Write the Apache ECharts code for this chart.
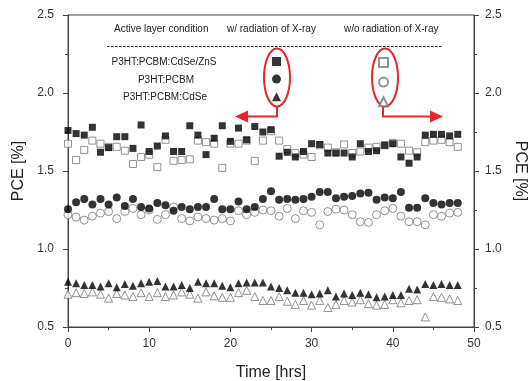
<!DOCTYPE html>
<html>
<head>
<meta charset="utf-8">
<script src="https://cdn.jsdelivr.net/npm/echarts@6/dist/echarts.min.js"></script>
<style>
  html, body { margin: 0; padding: 0; background: #fff; }
  #chart { width: 532px; height: 381px; }
</style>
</head>
<body>
<div id="chart"></div>
<script>
// PCE vs time, one point per hour (0..48)
var sqFilled = [1.76,1.74,1.73,1.78,1.62,1.65,1.72,1.72,1.645,1.795,
  1.625,1.66,1.725,1.625,1.625,1.79,1.73,1.605,1.71,1.79,
  1.69,1.775,1.70,1.785,1.75,1.765,1.595,1.62,1.59,1.625,
  1.675,1.67,1.615,1.615,1.615,1.59,1.675,1.625,1.63,1.665,
  1.675,1.59,1.55,1.59,1.73,1.735,1.735,1.725,1.735];
var sqOpen = [1.675,1.57,1.635,1.695,1.675,1.655,1.655,1.63,1.545,1.59,
  1.605,1.525,1.70,1.565,1.57,1.575,1.695,1.685,1.675,1.52,
  1.675,1.675,1.695,1.565,1.695,1.755,1.695,1.64,1.615,1.605,
  1.59,1.665,1.65,1.62,1.67,1.615,1.625,1.65,1.655,1.665,
  1.68,1.675,1.63,1.62,1.685,1.695,1.70,1.685,1.655];
var cirFilled = [1.255,1.30,1.32,1.285,1.32,1.285,1.33,1.275,1.32,1.27,
  1.26,1.295,1.28,1.245,1.27,1.255,1.27,1.27,1.32,1.255,
  1.255,1.305,1.255,1.27,1.32,1.37,1.315,1.32,1.315,1.32,
  1.335,1.365,1.365,1.325,1.335,1.34,1.355,1.36,1.315,1.33,
  1.325,1.365,1.265,1.265,1.325,1.295,1.285,1.295,1.295];
var cirOpen = [1.22,1.205,1.185,1.21,1.23,1.24,1.195,1.24,1.26,1.22,
  1.25,1.19,1.22,1.27,1.195,1.18,1.205,1.195,1.185,1.195,
  1.18,1.245,1.22,1.235,1.25,1.245,1.21,1.26,1.195,1.245,
  1.235,1.155,1.24,1.255,1.25,1.22,1.175,1.17,1.22,1.245,
  1.26,1.21,1.175,1.175,1.155,1.22,1.21,1.23,1.235];
var triFilled = [0.79,0.78,0.77,0.77,0.76,0.78,0.755,0.775,0.765,0.78,
  0.79,0.795,0.76,0.76,0.77,0.75,0.79,0.78,0.78,0.765,
  0.755,0.78,0.785,0.785,0.785,0.76,0.75,0.735,0.72,0.72,
  0.71,0.715,0.735,0.695,0.715,0.705,0.72,0.71,0.69,0.695,
  0.705,0.705,0.745,0.74,0.775,0.77,0.775,0.77,0.77];
var triOpen = [0.71,0.72,0.715,0.725,0.71,0.685,0.715,0.705,0.695,0.72,
  0.695,0.72,0.695,0.705,0.725,0.71,0.685,0.725,0.70,0.69,
  0.69,0.72,0.735,0.695,0.67,0.67,0.695,0.665,0.645,0.67,
  0.64,0.67,0.625,0.645,0.67,0.66,0.675,0.65,0.64,0.645,
  0.675,0.655,0.67,0.675,0.565,0.695,0.69,0.68,0.67];

var samples = ['P3HT:PCBM:CdSe/ZnS', 'P3HT:PCBM', 'P3HT:PCBM:CdSe'];

var chart = echarts.init(document.getElementById('chart'));

function pts(arr) {
  return arr.map(function (v, i) { return [i, v]; });
}
function filled(name, sym, size, arr) {
  return { name: name, type: 'scatter', symbol: sym, symbolSize: size,
    itemStyle: { color: '#000' }, data: pts(arr), z: 3 };
}
function open(name, sym, size, arr) {
  return { name: name, type: 'scatter', symbol: sym, symbolSize: size,
    itemStyle: { color: '#fff', borderColor: '#777', borderWidth: 1 }, data: pts(arr), z: 2 };
}

var red = '#e8262a';
var font = 'Liberation Sans, Arial, sans-serif';
var axisCol = '#444';

var yBase = {
  type: 'value', min: 0.5, max: 2.5, interval: 0.5,
  splitLine: { show: false },
  axisLine: { show: true, lineStyle: { color: axisCol } },
  axisTick: { show: true, inside: false, length: 5, lineStyle: { color: axisCol } },
  minorTick: { show: true, splitNumber: 2, length: 3, lineStyle: { color: axisCol } },
  nameLocation: 'middle',
  nameTextStyle: { fontFamily: font, fontSize: 16, color: '#222' }
};
function oneDec(v) { return v.toFixed(1); }

var option = {
  animation: false,
  textStyle: { fontFamily: font },
  grid: { left: 68, right: 58, top: 15, bottom: 54, show: true,
    outerBoundsMode: 'none', containLabel: false,
    borderColor: axisCol, borderWidth: 1, backgroundColor: 'transparent' },
  xAxis: {
    type: 'value', min: 0, max: 50, interval: 10,
    name: 'Time [hrs]', nameLocation: 'middle', nameGap: 38,
    nameTextStyle: { fontFamily: font, fontSize: 16, color: '#222' },
    splitLine: { show: false },
    axisLine: { onZero: false, lineStyle: { color: axisCol } },
    axisTick: { length: 5, lineStyle: { color: axisCol } },
    minorTick: { show: true, splitNumber: 2, length: 3, lineStyle: { color: axisCol } },
    axisLabel: { margin: 11, fontSize: 12, color: '#333', fontFamily: font }
  },
  yAxis: [
    Object.assign({}, yBase, {
      position: 'left', name: 'PCE [%]', nameGap: 37,
      axisLabel: { margin: 14, fontSize: 12, color: '#333', fontFamily: font, formatter: oneDec }
    }),
    Object.assign({}, yBase, {
      position: 'right', name: 'PCE [%]', nameGap: 38, nameRotate: -90,
      axisLabel: { margin: 11, fontSize: 12, color: '#333', fontFamily: font, formatter: oneDec }
    })
  ],
  legend: [
    {
      data: [
        { name: samples[0] + ' w/', icon: 'rect' },
        { name: samples[1] + ' w/', icon: 'circle' },
        { name: samples[2] + ' w/', icon: 'triangle' }
      ],
      orient: 'vertical', left: 272, top: 57, itemWidth: 9, itemHeight: 9,
      itemGap: 8.6, selectedMode: false, padding: 0,
      formatter: function () { return ''; },
      textStyle: { fontSize: 1, lineHeight: 1 }
    },
    {
      data: [
        { name: samples[0] + ' w/o', icon: 'rect' },
        { name: samples[1] + ' w/o', icon: 'circle' },
        { name: samples[2] + ' w/o', icon: 'triangle' }
      ],
      orient: 'vertical', left: 378, top: 57, itemWidth: 9, itemHeight: 9,
      itemGap: 8.6, selectedMode: false, padding: 0,
      formatter: function () { return ''; },
      textStyle: { fontSize: 1, lineHeight: 1 }
    }
  ],
  graphic: [
    { type: 'text', left: 114, top: 24, style: { text: 'Active layer condition', font: '10px ' + font, fill: '#222' } },
    { type: 'text', left: 227, top: 24, style: { text: 'w/ radiation of X-ray', font: '10px ' + font, fill: '#222' } },
    { type: 'text', left: 344, top: 24, style: { text: 'w/o radiation of X-ray', font: '10px ' + font, fill: '#222' } },
    { type: 'line', shape: { x1: 107, y1: 46.5, x2: 443, y2: 46.5 },
      style: { stroke: '#222', lineWidth: 1, lineDash: [2.5, 1.5] } },
    { type: 'text', x: 164, y: 62.5, style: { text: samples[0], font: '10px ' + font, fill: '#222', align: 'center', verticalAlign: 'middle' } },
    { type: 'text', x: 166, y: 80, style: { text: samples[1], font: '10px ' + font, fill: '#222', align: 'center', verticalAlign: 'middle' } },
    { type: 'text', x: 165, y: 97.5, style: { text: samples[2], font: '10px ' + font, fill: '#222', align: 'center', verticalAlign: 'middle' } },
    { type: 'ellipse', shape: { cx: 277, cy: 77.5, rx: 13, ry: 29 },
      style: { fill: 'none', stroke: red, lineWidth: 2 } },
    { type: 'ellipse', shape: { cx: 385, cy: 77.5, rx: 13, ry: 29 },
      style: { fill: 'none', stroke: red, lineWidth: 2 } },
    { type: 'polyline', shape: { points: [[277, 106], [277, 116.5], [246, 116.5]] },
      style: { fill: 'none', stroke: red, lineWidth: 2 } },
    { type: 'polygon', shape: { points: [[235, 116.5], [248, 110.5], [248, 122.5]] },
      style: { fill: red } },
    { type: 'polyline', shape: { points: [[383, 106], [383, 116.5], [432, 116.5]] },
      style: { fill: 'none', stroke: red, lineWidth: 2 } },
    { type: 'polygon', shape: { points: [[443, 116.5], [430, 110.5], [430, 122.5]] },
      style: { fill: red } }
  ],
  series: [
    open(samples[0] + ' w/o', 'rect', 7, sqOpen),
    open(samples[1] + ' w/o', 'circle', 8, cirOpen),
    open(samples[2] + ' w/o', 'triangle', 8, triOpen),
    filled(samples[0] + ' w/', 'rect', 7, sqFilled),
    filled(samples[1] + ' w/', 'circle', 8, cirFilled),
    filled(samples[2] + ' w/', 'triangle', 8, triFilled)
  ]
};

chart.setOption(option);
</script>
</body>
</html>
